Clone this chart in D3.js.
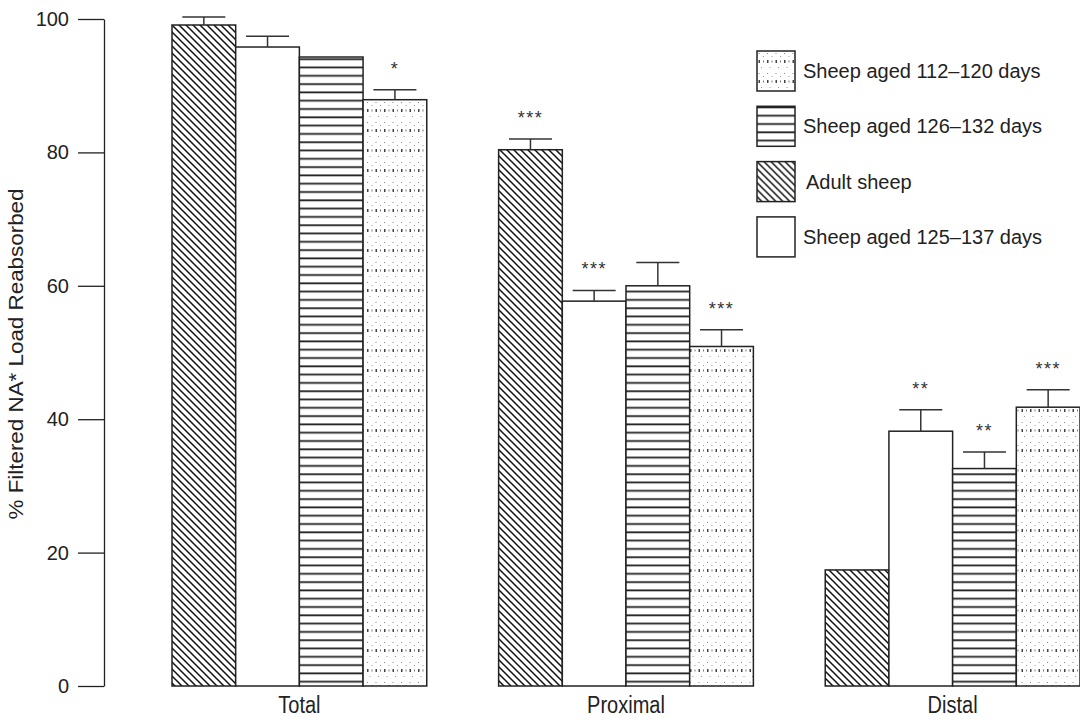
<!DOCTYPE html>
<html>
<head>
<meta charset="utf-8">
<script src="https://cdn.jsdelivr.net/npm/d3@7"></script>
<style>
  html, body { margin: 0; padding: 0; background: #fff; }
  svg { display: block; font-family: "Liberation Sans", Arial, Helvetica, sans-serif; }
</style>
</head>
<body>
<svg id="chart" width="1080" height="719"></svg>
<script>
// ---- data ----
const groups = ["Total", "Proximal", "Distal"];
const seriesNames = ["Adult sheep", "Sheep aged 125–137 days", "Sheep aged 126–132 days", "Sheep aged 112–120 days"];
const seriesKeys = ["adult", "s125", "s126", "s112"];
const adultValues = [99.1, 80.4, 17.4];
const s125Values = [95.8, 57.7, 38.2];
const s126Values = [94.3, 60.0, 32.6];
const s112Values = [87.9, 50.9, 41.8];
const adultErr = [1.2, 1.6, 0];
const s125Err = [1.6, 1.6, 3.2];
const s126Err = [0, 3.5, 2.5];
const s112Err = [1.5, 2.5, 2.6];
const adultSig = ["", "***", ""];
const s125Sig = ["", "***", "**"];
const s126Sig = ["", "", "**"];
const s112Sig = ["*", "***", "***"];
const yTicks = [0, 20, 40, 60, 80, 100];
const legendOrder = ["s112", "s126", "adult", "s125"];
const yTitle = "% Filtered NA* Load Reabsorbed";

const valuesByKey = { adult: adultValues, s125: s125Values, s126: s126Values, s112: s112Values };
const errByKey = { adult: adultErr, s125: s125Err, s126: s126Err, s112: s112Err };
const sigByKey = { adult: adultSig, s125: s125Sig, s126: s126Sig, s112: s112Sig };
const nameByKey = {}; seriesKeys.forEach((k, i) => nameByKey[k] = seriesNames[i]);

const rows = [];
groups.forEach((g, gi) => seriesKeys.forEach(k => rows.push({
  group: g, key: k, value: valuesByKey[k][gi], err: errByKey[k][gi], sig: sigByKey[k][gi]
})));

// ---- scales ----
const svg = d3.select("#chart");
const y = d3.scaleLinear().domain([0, 100]).range([686, 19]);
const x0 = d3.scaleBand().domain(groups).range([172, 1080]).paddingInner(0.22).paddingOuter(0);
const x1 = d3.scaleBand().domain(seriesKeys).range([0, x0.bandwidth()]).padding(0);

// ---- patterns ----
const defs = svg.append("defs");
const pDiag = defs.append("pattern").attr("id", "p-adult").attr("patternUnits", "userSpaceOnUse")
  .attr("width", 7).attr("height", 7);
pDiag.append("rect").attr("width", 7).attr("height", 7).attr("fill", "#fff");
pDiag.append("path").attr("d", "M-1,-1 L8,8 M-1,6 L1,8 M6,-1 L8,1")
  .attr("stroke", "#111").attr("stroke-width", 1.5);

const pHor = defs.append("pattern").attr("id", "p-s126").attr("patternUnits", "userSpaceOnUse")
  .attr("width", 20).attr("height", 8.3).attr("y", y(0));
pHor.append("rect").attr("width", 20).attr("height", 8.3).attr("fill", "#fff");
pHor.append("line").attr("x1", 0).attr("x2", 20).attr("y1", 4).attr("y2", 4)
  .attr("stroke", "#222").attr("stroke-width", 1.8);

const pDot = defs.append("pattern").attr("id", "p-s112").attr("patternUnits", "userSpaceOnUse")
  .attr("width", 17).attr("height", 20);
pDot.append("rect").attr("width", 17).attr("height", 20).attr("fill", "#fff");
[
  [1.5, 2, 1, 1, "#888"], [10, 2, 1, 1, "#888"], [6, 5, 1, 1, "#999"], [14.5, 5, 1, 1, "#999"],
  [1.5, 9, 1.5, 3, "#444"], [6, 9.5, 1, 2, "#777"], [10, 9, 1.5, 3, "#444"], [14.5, 9.5, 1, 2, "#777"],
  [4, 16, 1, 1, "#999"], [12.5, 16, 1, 1, "#999"]
].forEach(d => pDot.append("rect").attr("x", d[0]).attr("y", d[1]).attr("width", d[2]).attr("height", d[3]).attr("fill", d[4]));

const fillByKey = { adult: "url(#p-adult)", s125: "#fff", s126: "url(#p-s126)", s112: "url(#p-s112)" };

// ---- y axis ----
const yAxis = d3.axisLeft(y).tickValues(yTicks).tickSize(26).tickSizeOuter(0).tickPadding(9);
const gy = svg.append("g").attr("transform", "translate(104,0)").call(yAxis);
gy.selectAll("path.domain").attr("stroke", "#222").attr("stroke-width", 1.3);
gy.selectAll(".tick line").attr("stroke", "#222").attr("stroke-width", 1.3);
gy.selectAll(".tick text").attr("font-size", 20).attr("fill", "#222")
  .attr("font-family", "'Liberation Sans', Arial, sans-serif");

svg.append("text")
  .attr("transform", "translate(23,354) rotate(-90) scale(1.12,1)")
  .attr("text-anchor", "middle").attr("font-size", 20).attr("fill", "#222")
  .text(yTitle);

// ---- bars ----
const gBars = svg.append("g");
const bars = gBars.selectAll("g.bar").data(rows).join("g").attr("class", "bar");
bars.append("rect")
  .attr("x", d => x0(d.group) + x1(d.key))
  .attr("y", d => y(d.value))
  .attr("width", x1.bandwidth())
  .attr("height", d => y(0) - y(d.value))
  .attr("fill", d => fillByKey[d.key])
  .attr("stroke", "#222").attr("stroke-width", 1.5);

// error bars
const capW = 43;
const errRows = rows.filter(d => d.err > 0);
const gErr = svg.append("g").attr("stroke", "#333").attr("stroke-width", 1.5);
gErr.selectAll("line.v").data(errRows).join("line").attr("class", "v")
  .attr("x1", d => x0(d.group) + x1(d.key) + x1.bandwidth() / 2)
  .attr("x2", d => x0(d.group) + x1(d.key) + x1.bandwidth() / 2)
  .attr("y1", d => y(d.value)).attr("y2", d => y(d.value + d.err));
gErr.selectAll("line.c").data(errRows).join("line").attr("class", "c")
  .attr("x1", d => x0(d.group) + x1(d.key) + x1.bandwidth() / 2 - capW / 2)
  .attr("x2", d => x0(d.group) + x1(d.key) + x1.bandwidth() / 2 + capW / 2)
  .attr("y1", d => y(d.value + d.err)).attr("y2", d => y(d.value + d.err));

// significance stars
svg.append("g").selectAll("text").data(rows.filter(d => d.sig)).join("text")
  .attr("x", d => x0(d.group) + x1(d.key) + x1.bandwidth() / 2)
  .attr("y", d => y(d.value + d.err) - 15)
  .attr("text-anchor", "middle").attr("font-size", 18).attr("letter-spacing", 1.5)
  .attr("fill", "#333")
  .text(d => d.sig);

// category labels
svg.append("g").selectAll("text").data(groups).join("text")
  .attr("transform", d => `translate(${x0(d) + x0.bandwidth() / 2},713) scale(1,1.15)`)
  .attr("text-anchor", "middle").attr("font-size", 20).attr("fill", "#222")
  .text(d => d);

// ---- legend ----
const leg = svg.append("g").attr("transform", "translate(757,51)");
const li = leg.selectAll("g").data(legendOrder).join("g")
  .attr("transform", (d, i) => `translate(0,${i * 55.3})`);
li.append("rect").attr("width", 38).attr("height", 40)
  .attr("fill", d => fillByKey[d]).attr("stroke", "#222").attr("stroke-width", 1.5);
li.append("text").attr("x", d => d === "adult" ? 49 : 46).attr("y", 27)
  .attr("font-size", 20).attr("fill", "#222")
  .text(d => nameByKey[d]);
</script>
</body>
</html>
